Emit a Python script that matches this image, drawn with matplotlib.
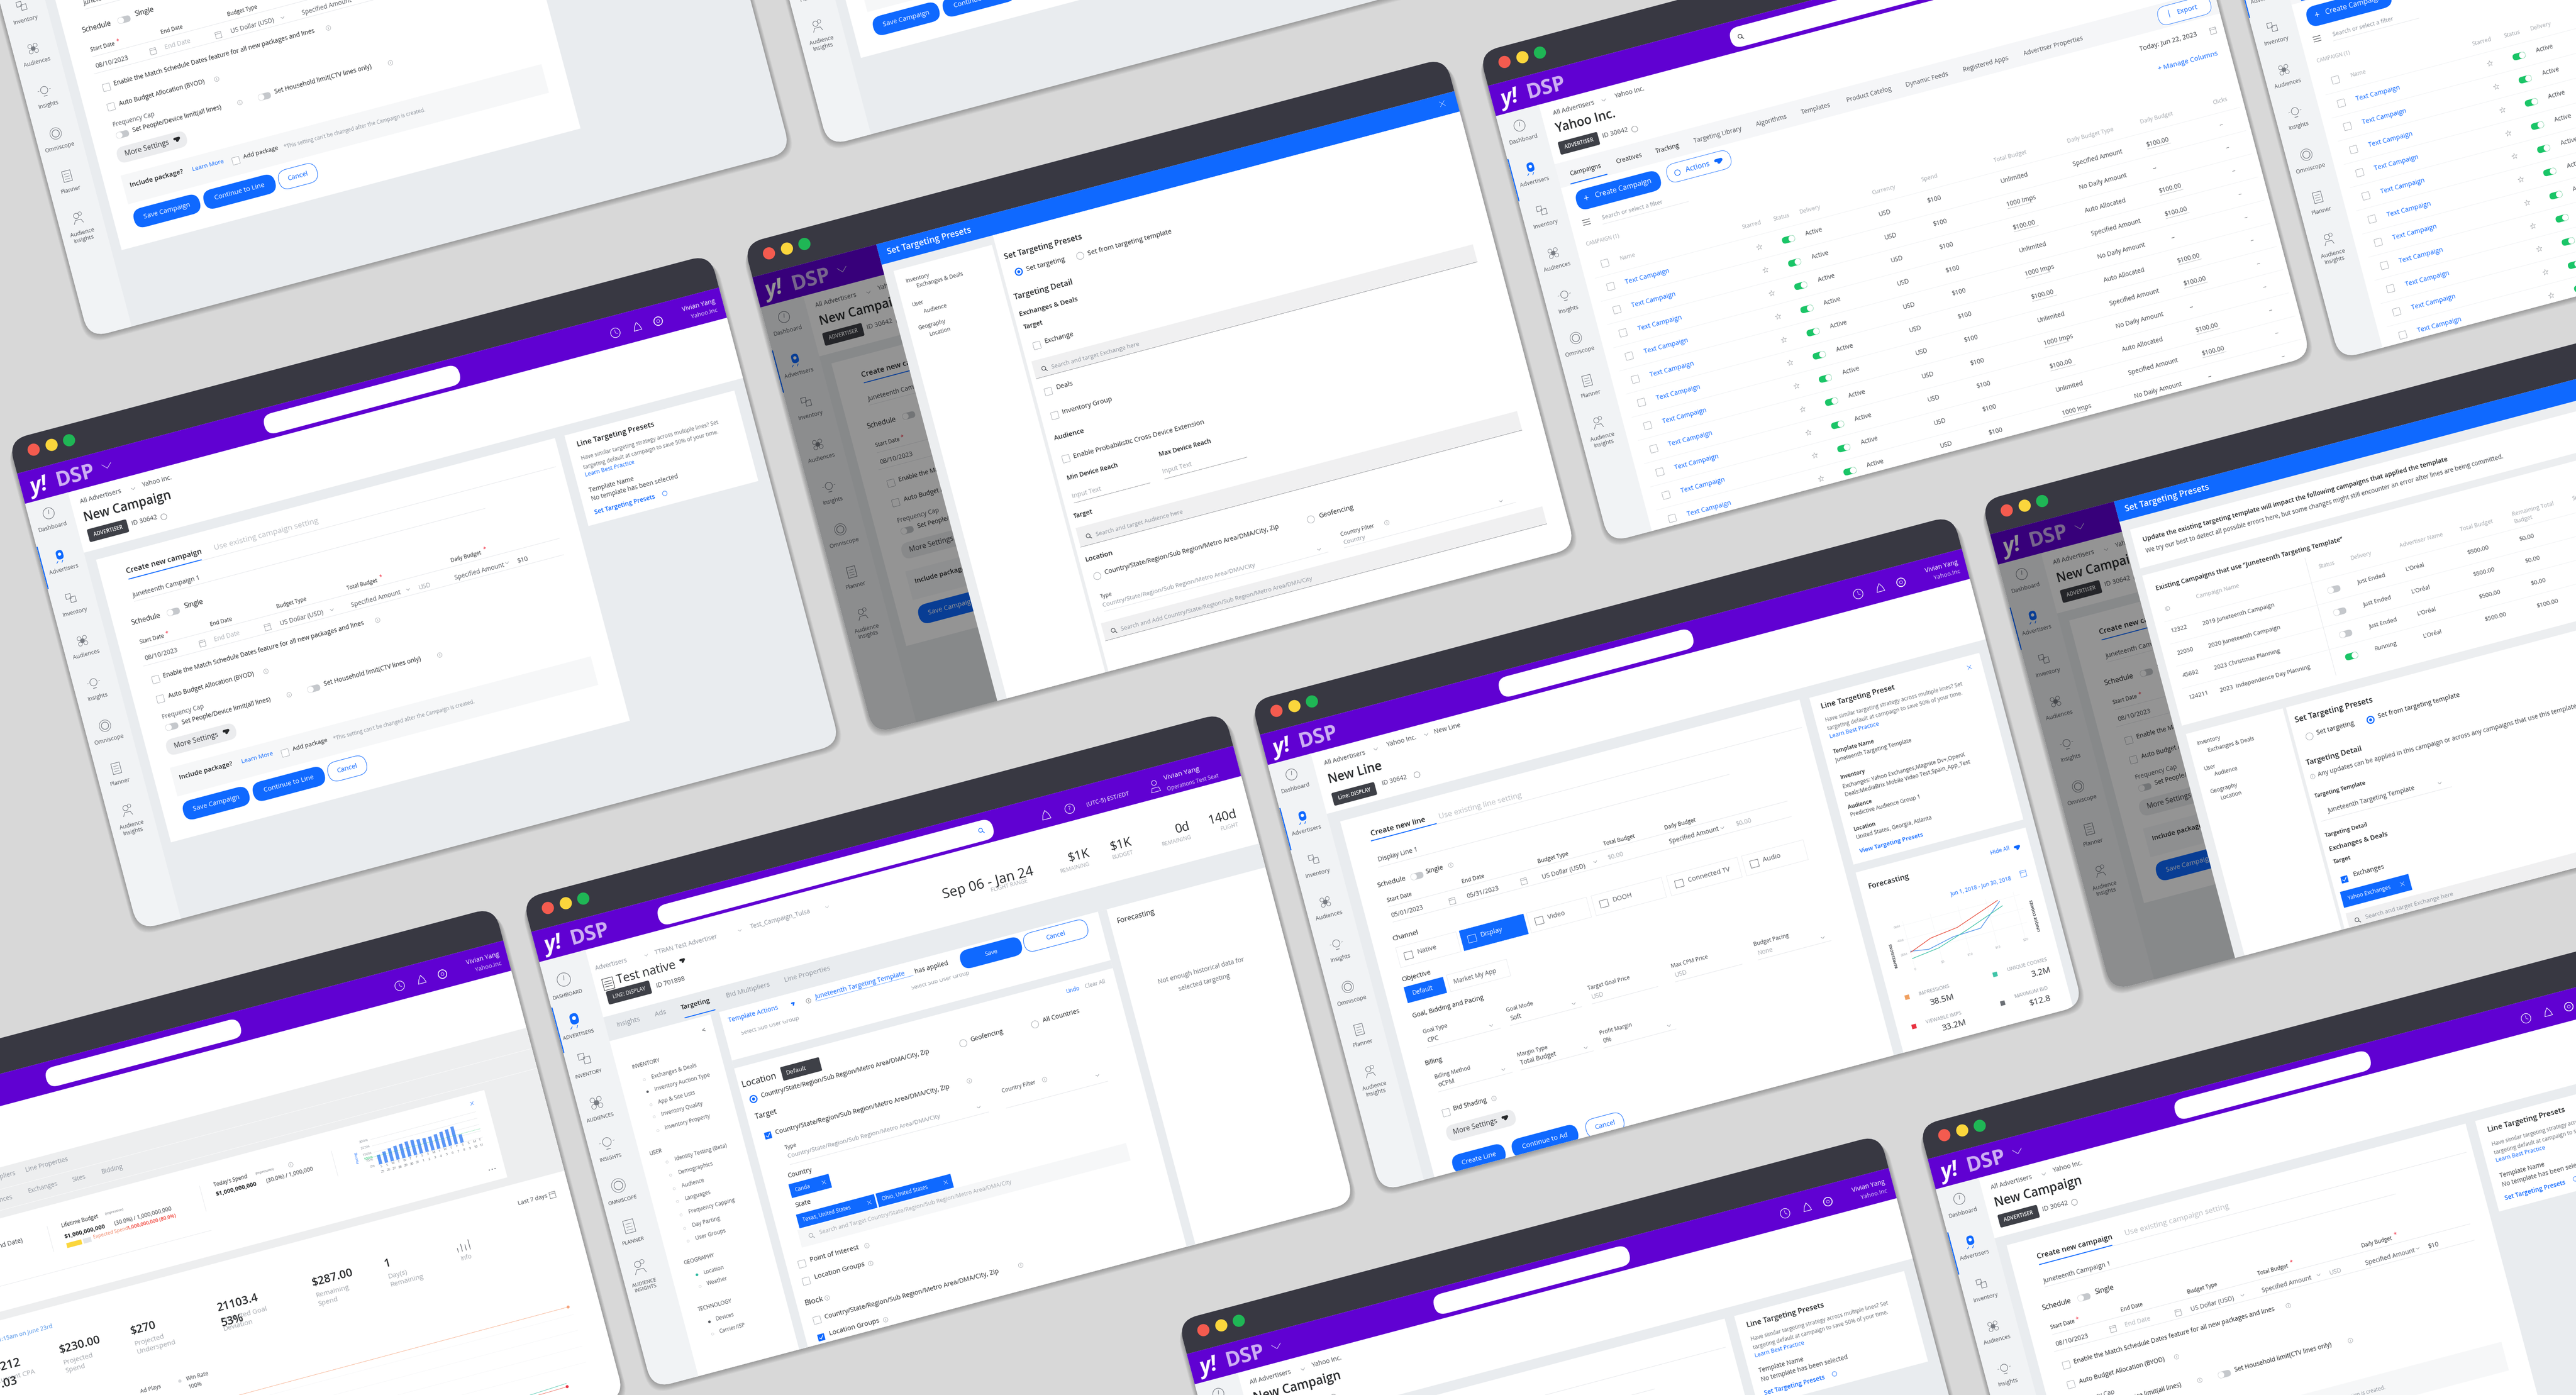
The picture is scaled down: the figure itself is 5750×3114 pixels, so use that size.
import itertools
import matplotlib
matplotlib.use('Agg')
import matplotlib.pyplot as plt
from matplotlib.patches import FancyBboxPatch, Circle
from matplotlib.transforms import Affine2D

plt.rcParams['font.family'] = ['Open Sans', 'DejaVu Sans']

# text of the screens
SIDE_LABELS = ['Dashboard', 'Advertisers', 'Inventory', 'Audiences', 'Insights', 'Omniscope', 'Planner', 'Audience\nInsights']
SIDE_CAPS = ['DASHBOARD', 'ADVERTISERS', 'INVENTORY', 'AUDIENCES', 'INSIGHTS', 'OMNISCOPE', 'PLANNER', 'AUDIENCE\nINSIGHTS']
SIDE_KINDS = ['gauge', 'rocket', 'cubes', 'flower', 'bulb', 'rings', 'page', 'people']
FORM_LABELS = ['End Date', 'Budget Type', 'Total Budget', 'Daily Budget']
PRESET_INTRO = ['Have similar targeting strategy across multiple lines? Set',
                'targeting default at campaign to save 50% of your time.']
TABLE_TABS = ['Campaigns', 'Creatives', 'Tracking', 'Targeting Library', 'Algorithms', 'Templates',
              'Product Catelog', 'Dynamic Feeds', 'Registered Apps', 'Advertiser Properties']
TABLE_HEADS = ['Starred', 'Status', 'Delivery', 'Currency', 'Spend', 'Total Budget', 'Daily Budget Type', 'Daily Budget', 'Clicks']
TOTAL_BUDGETS = ['Unlimited', '1000 Imps', '$100.00']
BUDGET_TYPES = ['Specified Amount', 'No Daily Amount', 'Auto Allocated']
DAILY_BUDGETS = ['$100.00', '--', '$100.00']
MODAL_NAV = ['Inventory', 'Exchanges & Deals', 'User', 'Audience', 'Geography', 'Location']
LONG_GEO = 'Country/State/Region/Sub Region/Metro Area/DMA/City'
CAMPAIGN_IDS = ['12322', '22050', '45692', '124211']
CAMPAIGN_NAMES = ['2019 Juneteenth Campaign', '2020 Juneteenth Campaign', '2023 Christmas Planning', '2023  Independence Day Planning']
CAMPAIGN_DELIVERY = ['Just Ended', 'Just Ended', 'Just Ended', 'Running']
CAMPAIGN_TOTAL = ['$500.00', '$500.00', '$500.00', '$500.00']
CAMPAIGN_LEFT = ['$0.00', '$0.00', '$0.00', '$100.00']
NAV_INVENTORY = ['Exchanges & Deals', 'Inventory Auction Type', 'App & Site Lists', 'Inventory Quality', 'Inventory Property']
NAV_USER = ['Identity Testing (Beta)', 'Demographics', 'Audience', 'Languages', 'Frequency Capping', 'Day Parting', 'User Groups']
LINE_TABS = ['Insights', 'Ads', 'Targeting', 'Bid Multipliers', 'Line Properties']
FLIGHT_VALUES = ['$1K', '$1K', '0d', '140d']
FLIGHT_NAMES = ['REMAINING', 'BUDGET', 'REMAINING', 'FLIGHT']
CHANNELS = ['Native', 'Display', 'Video', 'DOOH', 'Connected TV', 'Audio']
KPI_VALUES = ['$230.00', '$270', '21103.4', '$287.00', '1']
KPI_NAMES = [['Projected', 'Spend'], ['Projected', 'Underspend'], ['Projected Goal', 'Deviation'], ['Remaining', 'Spend'], ['Day(s)', 'Remaining']]

# forecast chart of the New Line screen: spend ($) against impressions (M)
IMPRESSION_SPEND = [0, 4, 9, 17]
IMPRESSION_M = [21, 33, 38, 60]
COOKIE_SPEND = [0, 5, 10.5, 17.6]
COOKIE_M = [12, 17, 31, 51]
VIEWABLE_SPEND = [0, 3.2, 7.9, 12.9, 17.3]
VIEWABLE_M = [22.5, 18.6, 26.8, 28.6, 58]
FORECAST_Y = ['20M', '40M', '60M']
FORECAST_X = ['0', '$5', '$10', '$15', '$20']
FORECAST_Y_TICKS = [20, 40, 60]
FORECAST_X_TICKS = [0, 5, 10, 15, 20]
FORECAST_STATS = ['IMPRESSIONS', 'VIEWABLE IMPS', 'UNIQUE COOKIES', 'MAXIMUM BID']
FORECAST_NUMBERS = ['38.5M', '33.2M', '3.2M', '$12.8']

# pacing chart of the dashboard screen
PACING = [110, 130, 150, 160, 165, 175, 175, 165, 160, 160, 170, 180, 190, 205, 95]
PACING_TICKS = [0, 75, 150, 225, 300]
WEEKDAYS = ['S', 'S', 'M', 'T', 'W', 'T', 'F', 'S', 'S', 'M', 'T', 'W', 'T', 'F', 'S', 'S', 'M', 'T']
MONTHDAYS = ['25', '26', '27', '28', '29', '30', '31', '1', '2', '3', '4', '5', '6', '7', '8', '9', '10', '11']
SPEND_LINE = [247.5, 247.2, 247.0, 246.8]
GOAL_LINE = [293.5, 293.0, 292.0, 291.5]
ACTUAL_LINE = [294.5, 294.2, 293.8, 293.5]

ANGLE = 14.85
W, H = 442, 308.5
PT = 2.64
TEXT_SCALE = 1.05
DARK = '#383842'
PURPLE = '#6001D2'
BLUE = '#0F69FF'
INK = '#26282A'
GREY = '#8F959E'
PALE = '#B9BDC5'
LINE = '#E2E4E8'
BODY = '#E9ECEF'
SIDE = '#F1F3F5'
GREEN = '#1AC567'

fig = plt.figure(figsize=(57.5, 31.14), dpi=100, facecolor='#D8D8D8')
ax = fig.add_axes([0, 0, 1, 1])
ax.set_xlim(0, 1568)
ax.set_ylim(849.2, 0)
ax.axis('off')
ax.autoscale(False)
order = itertools.count(10)


def window(tx, ty):
    tf = Affine2D().rotate_deg(-ANGLE).translate(tx, ty) + ax.transData
    for i in range(8):
        off = 0.5 + i * 0.45
        sh = FancyBboxPatch((-off * 0.7, off), W + off * 1.4, H, boxstyle='round,pad=0,rounding_size=13',
                            fc='black', ec='none', alpha=0.035, transform=tf, zorder=next(order))
        ax.add_patch(sh)
    clip = FancyBboxPatch((0, 0), W, H, boxstyle='round,pad=0,rounding_size=12', fc=BODY, ec='none',
                          transform=tf, zorder=next(order))
    ax.add_patch(clip)
    w = {'tf': tf, 'clip': clip}
    box(w, -1, -1, W + 1, 21, DARK)
    box(w, -1, 21, W + 1, 40.5, PURPLE)
    for u, c in zip([13.5, 24.8, 35.8], ['#F45B4F', '#FBD63C', '#1FB655']):
        ring(w, u, 9.5, 3.7, c)
    return w


def box(w, u0, v0, u1, v1, color, r=0, edge='none', lw=0, alpha=None):
    p = FancyBboxPatch((u0, v0), u1 - u0, v1 - v0, boxstyle='round,pad=0,rounding_size=%f' % max(r, 0.001),
                       fc=color, ec=edge, lw=lw * PT, alpha=alpha, transform=w['tf'], zorder=next(order))
    ax.add_patch(p)
    p.set_clip_path(w['clip'])
    return p


def ring(w, u, v, r, color='none', edge='none', lw=0):
    p = Circle((u, v), r, fc=color, ec=edge, lw=lw * PT, transform=w['tf'], zorder=next(order))
    ax.add_patch(p)
    p.set_clip_path(w['clip'])


def rule(w, us, vs, color=LINE, lw=0.25, ls='-', tf=None):
    ln, = ax.plot(us, vs, color=color, lw=lw * PT, ls=ls, transform=tf if tf else w['tf'],
                  zorder=next(order), solid_capstyle='round')
    ln.set_clip_path(w['clip'])
    return ln


def say(w, u, v, s, size=3.8, color=INK, weight='normal', ha='left', style='normal', rot=ANGLE, tf=None):
    t = ax.text(u, v, s, transform=tf if tf else w['tf'], rotation=rot, rotation_mode='anchor', ha=ha, va='center',
                fontsize=size * PT * TEXT_SCALE, color=color, fontweight=weight, fontstyle=style, parse_math=False,
                zorder=next(order), linespacing=1.15, clip_on=True)
    t.set_clip_path(w['clip'])
    return t


def check(w, u, v, on=False):
    if on:
        box(w, u - 2.1, v - 2.1, u + 2.1, v + 2.1, BLUE, r=0.3)
        rule(w, [u - 1.2, u - 0.3, u + 1.3], [v, v + 1, v - 1.2], 'white', 0.4)
    else:
        box(w, u - 2.2, v - 2.2, u + 2.2, v + 2.2, 'white', r=0.3, edge='#8A8F96', lw=0.2)


def radio(w, u, v, on=False):
    if on:
        ring(w, u, v, 2.1, 'white', BLUE, 0.7)
        ring(w, u, v, 0.9, BLUE)
    else:
        ring(w, u, v, 2.2, 'white', '#8A8F96', 0.22)


def toggle(w, u, v, on=False):
    box(w, u - 4, v - 2, u + 4, v + 2, GREEN if on else '#C5C8CC', r=2)
    ring(w, u + (2 if on else -2), v, 1.9, 'white', '#D5D7DA', 0.1)


def info(w, u, v, c='#777B82'):
    ring(w, u, v, 1.4, 'none', c, 0.16)
    rule(w, [u, u], [v - 0.6, v + 0.7], c, 0.18)


def chevron(w, u, v, c='#8A8F96', s=1.0, lw=0.25):
    rule(w, [u - s, u, u + s], [v - s * 0.5, v + s * 0.5, v - s * 0.5], c, lw)


def caret(w, u, v, c=INK, s=1.6):
    rule(w, [u - s * 0.5, u + s * 0.5, u], [v - 0.4, v - 0.4, v + 0.9], c, s * 0.6)


def calendar(w, u, v, c='#777B82'):
    box(w, u - 1.8, v - 1.8, u + 1.8, v + 2, 'none', edge=c, lw=0.2)
    rule(w, [u - 1.8, u + 1.8], [v - 0.7, v - 0.7], c, 0.2)


def glass(w, u, v, c='#4A4D52'):
    ring(w, u - 0.3, v - 0.3, 1.2, 'none', c, 0.35)
    rule(w, [u + 0.5, u + 1.6], [v + 0.5, v + 1.6], c, 0.4)


def cross(w, u, v, c='white', s=1.2):
    rule(w, [u - s, u + s], [v - s, v + s], c, 0.2)
    rule(w, [u - s, u + s], [v + s, v - s], c, 0.2)


def pill(w, u0, u1, v, s, filled=True, h=6, size=4.2):
    if filled:
        box(w, u0, v - h, u1, v + h, BLUE, r=h)
        say(w, (u0 + u1) / 2, v, s, size, 'white', ha='center')
    else:
        box(w, u0, v - h, u1, v + h, 'white', r=h, edge=BLUE, lw=0.3)
        say(w, (u0 + u1) / 2, v, s, size, BLUE, ha='center')


def side_icon(w, kind, u, v, s=1.0):
    c = '#777B82'
    if kind == 'gauge':
        ring(w, u, v, 3.4 * s, 'none', c, 0.35)
        rule(w, [u, u + 0.5 * s], [v + 0.3, v - 2 * s], c, 0.35)
    elif kind == 'rocket':
        box(w, u - 2.2 * s, v - 3.5 * s, u + 2.2 * s, v + 2.2 * s, BLUE, r=2.1 * s)
        ring(w, u, v - 1 * s, 1 * s, 'white')
        rule(w, [u - 2 * s, u - 3 * s], [v + 3 * s, v + 4 * s], BLUE, 0.4)
        rule(w, [u + 1, u + 0.2], [v + 3 * s, v + 4.2 * s], BLUE, 0.4)
    elif kind == 'cubes':
        box(w, u - 3 * s, v - 3 * s, u, v, 'none', edge=c, lw=0.35)
        box(w, u - 0.6 * s, v - 0.8 * s, u + 2.6 * s, v + 2.6 * s, 'none', edge=c, lw=0.35)
    elif kind == 'flower':
        for du, dv in [(-1.7, -1.7), (1.7, -1.7), (-1.7, 1.7), (1.7, 1.7), (0, 0)]:
            ring(w, u + du * s, v + dv * s, 1.2 * s, c if du == 0 else 'none', c, 0.3)
    elif kind == 'bulb':
        ring(w, u, v - 0.6 * s, 2.2 * s, 'none', c, 0.35)
        rule(w, [u - 1 * s, u + 1 * s], [v + 3 * s, v + 3 * s], c, 0.4)
        rule(w, [u - 4 * s, u - 3.2 * s], [v - 0.6 * s, v - 0.6 * s], c, 0.25)
        rule(w, [u + 3.2 * s, u + 4 * s], [v - 0.6 * s, v - 0.6 * s], c, 0.25)
    elif kind == 'rings':
        ring(w, u, v, 3.5 * s, 'none', c, 0.3)
        ring(w, u, v, 2.2 * s, 'none', c, 0.4)
    elif kind == 'page':
        box(w, u - 2.6 * s, v - 3.2 * s, u + 2.6 * s, v + 3.4 * s, 'none', edge=c, lw=0.35)
        for dv in (-1.3, 0.3, 1.8):
            rule(w, [u - 1.5 * s, u + 1.5 * s], [v + dv * s, v + dv * s], c, 0.25)
    elif kind == 'people':
        ring(w, u - 0.8 * s, v - 1.8 * s, 1.6 * s, 'none', c, 0.35)
        ring(w, u + 1.6 * s, v - 2.6 * s, 1.1 * s, 'none', c, 0.28)
        rule(w, [u - 3.2 * s, u - 2 * s, u + 1.5 * s, u + 2.5 * s], [v + 3 * s, v + 0.8 * s, v + 0.8 * s, v + 3 * s], c, 0.35)


def sidebar(w):
    box(w, -1, 40, 27, H + 1, SIDE)
    rule(w, [0.3, 0.3], [67.5, 93.5], BLUE, 0.75)
    for i, (name, kind) in enumerate(zip(SIDE_LABELS, SIDE_KINDS)):
        v = 49.3 + 26.75 * i
        side_icon(w, kind, 12.4, v)
        say(w, 12.6, v + (8.7 if i < 7 else 11), name, 3.3, '#55585E', ha='center')


def logo(w, chev=True):
    say(w, 5.5, 32, 'y!', 12.5, 'white', 'bold', style='italic')
    say(w, 22, 31.5, 'DSP', 12, '#CFB2F3', 'bold')
    if chev:
        chevron(w, 54, 30.5, '#D9C6F5', 2.8, 0.35)


def user_block(w, name2='Yahoo.Inc'):
    ring(w, 374, 31.5, 2.9, 'none', 'white', 0.35)
    rule(w, [374, 374, 375.2], [29.8, 31.6, 32.3], 'white', 0.25)
    rule(w, [385.4, 386.2, 387.8, 389.4, 390.2, 385.4], [33.5, 31, 28.6, 31, 33.5, 33.5], 'white', 0.35)
    ring(w, 401, 31.3, 2.6, 'none', 'white', 0.5)
    ring(w, 401, 31.3, 0.9, 'none', 'white', 0.25)
    say(w, 437.5, 28.5, 'Vivian Yang', 3.7, 'white', ha='right')
    say(w, 437.5, 34.1, name2, 3.4, '#E2D3F7', ha='right')


def new_campaign(w):
    logo(w)
    box(w, 153, 25, 276, 37.5, 'white', r=6.2)
    user_block(w)
    box(w, 26, 40, W + 1, 78, 'white')
    sidebar(w)
    say(w, 32.7, 47.7, 'All Advertisers', 3.7, '#4A4D52')
    chevron(w, 66, 48, '#8A8F96', 1.2)
    say(w, 71.8, 47.4, 'Yahoo Inc.', 3.7, '#4A4D52')
    say(w, 32.4, 57.7, 'New Campaign', 7.2, INK, 'semibold')
    box(w, 32.2, 64.8, 57, 72.8, '#3E4047', r=1)
    say(w, 44.6, 68.8, 'ADVERTISER', 3, 'white', 'semibold', ha='center')
    say(w, 59.6, 68.6, 'ID 30642', 3.7, '#4A4D52')
    ring(w, 79.6, 69.3, 1.8, 'none', '#5A5D63', 0.2)

    box(w, 33, 84, 322, 262, 'white')
    say(w, 49, 95.8, 'Create new campaign', 4.35, INK, 'semibold')
    rule(w, [49.3, 95], [100.5, 100.5], BLUE, 0.55)
    say(w, 104.3, 95.7, 'Use existing campaign setting', 4.5, '#BABDC2')
    rule(w, [95, 318], [101, 101])
    say(w, 49, 111, 'Juneteenth Campaign 1', 3.7, '#43464B')
    rule(w, [49, 270], [114.5, 114.5])
    say(w, 44, 126.8, 'Schedule', 4.1)
    toggle(w, 70.4, 126.7)
    say(w, 77.6, 125.5, 'Single', 4.1)

    say(w, 46, 139.3, 'Start Date', 3.1)
    say(w, 62.3, 138.5, '*', 3.2, '#F0182E')
    for u, name in zip([90, 132, 176.3, 241.6], FORM_LABELS):
        say(w, u, 140, name, 3.1)
    say(w, 197, 138.5, '*', 3.2, '#F0182E')
    say(w, 262.5, 138.5, '*', 3.2, '#F0182E')
    rule(w, [46, 309], [143.7, 143.7])
    say(w, 46.3, 150, '08/10/2023', 3.7, '#43464B')
    calendar(w, 82.6, 149.8)
    say(w, 90, 149.6, 'End Date', 3.6, '#B0B4BA')
    calendar(w, 123.5, 150.4)
    say(w, 131.3, 150.6, 'US Dollar (USD)', 3.6, '#55585E')
    chevron(w, 164, 150.3)
    say(w, 176.1, 150.7, 'Specified Amount', 3.6, '#55585E')
    chevron(w, 212, 150.2)
    say(w, 218.6, 150.9, 'USD', 3.6, '#9EA2A8')
    say(w, 241.2, 150.8, 'Specified Amount', 3.6, '#55585E')
    chevron(w, 274.4, 150)
    say(w, 280.6, 150.8, '$10', 3.7, '#43464B')
    rule(w, [44.3, 309], [154, 154])

    check(w, 49.5, 163.8)
    say(w, 54.4, 163.2, 'Enable the Match Schedule Dates feature for all new packages and lines', 3.6)
    info(w, 189.3, 163.5)
    check(w, 49.2, 176)
    say(w, 54.4, 175.7, 'Auto Budget Allocation (BYOD)', 3.6)
    info(w, 115.6, 176.2)
    say(w, 47.3, 187.1, 'Frequency Cap', 3.6, '#55585E')
    toggle(w, 51.6, 194)
    say(w, 58.2, 193.4, 'Set People/Device limit(all lines)', 3.6)
    info(w, 125.6, 193.6)
    toggle(w, 141, 193.8)
    say(w, 147.7, 193, 'Set Household limit(CTV lines only)', 3.6)
    info(w, 220.4, 193.7)
    box(w, 45, 201, 88.8, 211, '#EBECEE', r=5)
    say(w, 49.9, 206, 'More Settings', 4.1, '#3A3C40')
    caret(w, 82.8, 205.3, INK, 2.6)

    box(w, 44, 218, 309, 236, '#F6F7F8')
    say(w, 48, 225.4, 'Include package?', 3.85, INK, 'semibold')
    say(w, 87, 225.6, 'Learn More', 3.5, BLUE)
    check(w, 114.2, 227.2)
    say(w, 119.3, 226.2, 'Add package', 3.5)
    say(w, 144.8, 226.7, "*This setting can't be changed after the Campaign is created.", 3, '#8F959E')
    pill(w, 45, 86.5, 246, 'Save Campaign', size=3.9)
    pill(w, 89, 134, 246, 'Continue to Line', size=3.9)
    pill(w, 136.2, 160.3, 246, 'Cancel', filled=False, size=3.9)

    box(w, 328, 84, 435, 141, 'white')
    say(w, 334, 91.6, 'Line Targeting Presets', 4.4, INK, 'semibold')
    say(w, 334.2, 100.3, PRESET_INTRO[0], 3.15, '#6B6F75')
    say(w, 334.2, 105.8, PRESET_INTRO[1], 3.15, '#6B6F75')
    say(w, 334, 110.6, 'Learn Best Practice', 3.3, BLUE)
    say(w, 334, 120.4, 'Template Name', 3.6, '#34363A')
    say(w, 334, 125.9, 'No template has been selected', 3.6, '#43464B')
    say(w, 333.6, 134.1, 'Set Targeting Presets', 3.6, BLUE, 'semibold')
    ring(w, 378, 133.7, 1.4, 'none', BLUE, 0.25)


def table_page(w):
    logo(w, chev=False)
    box(w, 150, 25, 276, 37.5, 'white', r=6.2)
    glass(w, 156.4, 31.4, '#2D2F33')
    box(w, 26, 40, W + 1, H + 1, 'white')
    box(w, 26, 77.5, W + 1, 92.5, '#F5F6F8')
    sidebar(w)
    say(w, 34, 47.6, 'All Advertisers', 3.7, '#4A4D52')
    chevron(w, 66, 47.5, '#8A8F96', 1.2)
    say(w, 72.9, 47, 'Yahoo Inc.', 3.7, '#4A4D52')
    say(w, 33.2, 57.2, 'Yahoo Inc.', 7.2, INK, 'semibold')
    box(w, 32.2, 65, 57, 73, '#3E4047', r=1)
    say(w, 44.6, 69, 'ADVERTISER', 3, 'white', 'semibold', ha='center')
    say(w, 59.6, 68.6, 'ID 30642', 3.7, '#4A4D52')
    ring(w, 79.6, 69.3, 1.8, 'none', '#5A5D63', 0.2)
    for u, tab in zip([34.5, 63.4, 88.5, 112.6, 151.9, 180.1, 208.8, 246, 282.1, 320.2], TABLE_TABS):
        say(w, u, 85.8, tab, 3.6, INK if tab in TABLE_TABS[:3] else '#55585E')
    rule(w, [33.5, 56.3], [91.6, 91.6], BLUE, 0.6)
    box(w, 405, 79.5, 438, 91, 'white', r=5.5, edge=BLUE, lw=0.25)
    rule(w, [412, 412], [82.5, 87], BLUE, 0.3)
    say(w, 417, 85.3, 'Export', 4, BLUE)
    say(w, 389.2, 101.2, 'Today: Jun 22, 2023', 3.8, '#34363A')
    calendar(w, 435.3, 101.6)
    say(w, 397, 115.7, '+ Manage Columns', 4, BLUE)
    box(w, 34, 96.5, 87, 109, BLUE, r=6.2)
    say(w, 39, 102.7, '+', 5.5, 'white')
    say(w, 45.9, 102.5, 'Create Campaign', 4.2, 'white')
    box(w, 91.5, 95.5, 131.6, 107, 'white', r=5.7, edge=BLUE, lw=0.25)
    ring(w, 98, 101.6, 1.7, 'none', BLUE, 0.35)
    say(w, 103.2, 101.6, 'Actions', 4.2, BLUE)
    caret(w, 124, 101, BLUE, 3.2)
    for dv in (-1.5, 0, 1.5):
        rule(w, [34.5, 39], [116.5 + dv, 116.5 + dv], '#34363A', 0.3)
    say(w, 46.6, 116.6, 'Search or select a filter', 3.4, '#8F959E')
    rule(w, [46, 100], [120.3, 120.3])
    say(w, 33.2, 129.6, 'CAMPAIGN (1)', 3, '#A4A8AE')
    check(w, 41.2, 143.6)
    say(w, 50.8, 143.3, 'Name', 3.3, '#A4A8AE')
    heads_u = [127.3, 147.1, 163.8, 209.4, 240.2, 286, 332.2, 378.1, 424]
    for u, name in zip(heads_u, TABLE_HEADS):
        say(w, u, 144, name, 3.3, '#A4A8AE')
    for i in range(11):
        v = 158.2 + 14.6 * i
        rule(w, [33, 439], [v - 7.3, v - 7.3], '#EEF0F2')
        check(w, 41, v)
        say(w, 50.3, v, 'Text Campaign', 3.8, BLUE)
        say(w, 134.7, v, '\u2606', 4.6, '#6B6F75', ha='center')
        toggle(w, 152.9, v, True)
        say(w, 163.8, v - 0.5, 'Active', 3.6, '#43464B')
        say(w, 209.8, v - 0.4, 'USD', 3.6, '#43464B')
        say(w, 240.4, v - 0.6, '$100', 3.6, '#43464B')
        total = TOTAL_BUDGETS[i % 3]
        say(w, 286.7, v - 0.8, total, 3.6, '#43464B')
        if i % 3:
            rule(w, [286.7, 286.7 + 15.5], [v + 1.6, v + 1.6], '#888B90', 0.14)
        say(w, 331.9, v + 0.5, BUDGET_TYPES[i % 3], 3.6, '#43464B')
        say(w, 378.2, v + 0.5, DAILY_BUDGETS[i % 3], 3.6, '#43464B')
        if DAILY_BUDGETS[i % 3] != '--':
            rule(w, [378.2, 393], [v + 2.9, v + 2.9], '#888B90', 0.14)
        say(w, 424.5, v, '--', 3.4, '#43464B')


def dim_with_modal(w):
    new_campaign(w)
    box(w, -1, 21, W + 1, H + 1, 'black', alpha=0.42)
    box(w, 78, 21, W + 1, H + 1, '#ECEEF0')
    box(w, 78, 21, W + 1, 33.8, BLUE)
    say(w, 83.3, 27.3, 'Set Targeting Presets', 5, 'white', 'semibold')


def modal_nav(w, u0, u1, vs):
    for i, (name, v) in enumerate(zip(MODAL_NAV, vs)):
        say(w, u0 if i % 2 == 0 else u1, v, name, 3.2, '#43464B')


def search_band(w, v0, v1, s):
    box(w, 151, v0, 429, v1, '#F0F0F1')
    rule(w, [151, 429], [v1, v1], '#55585E', 0.16)
    glass(w, 157.5, (v0 + v1) / 2 + 0.8)
    say(w, 162, (v0 + v1) / 2 + 1, s, 3.4, '#8F959E')


def set_targeting_modal(w):
    dim_with_modal(w)
    cross(w, 433, 26.5, 'white', 1.6)
    box(w, 84, 39.3, 146, H + 1, 'white')
    box(w, 148, 33.8, W + 1, H + 1, 'white')
    modal_nav(w, 89.7, 95.4, [47.2, 52, 62.3, 67.9, 76.9, 82.4])
    say(w, 151.2, 48.6, 'Set Targeting Presets', 4.6, INK, 'semibold')
    radio(w, 157.6, 59.3, True)
    say(w, 162.4, 59.1, 'Set targeting', 3.9)
    radio(w, 196.2, 59.5)
    say(w, 201, 59.6, 'Set from targeting template', 3.9)
    say(w, 150.9, 73.9, 'Targeting Detail', 4.6, INK, 'semibold')
    say(w, 151.2, 84.6, 'Exchanges & Deals', 3.9, INK, 'semibold')
    say(w, 151.6, 93, 'Target', 3.8, INK, 'semibold')
    check(w, 156.8, 105.5)
    say(w, 161.9, 104.6, 'Exchange', 3.9)
    search_band(w, 114, 125, 'Search and target Exchange here')
    check(w, 156.3, 134.4)
    say(w, 161.6, 133.5, 'Deals', 3.9)
    check(w, 156.4, 149.5)
    say(w, 161.2, 149, 'Inventory Group', 3.9)
    say(w, 152.3, 163, 'Audience', 4, INK, 'semibold')
    check(w, 156.2, 176.7)
    say(w, 161, 176.7, 'Enable Probabilistic Cross Device Extension', 3.9)
    say(w, 153.7, 188.6, 'Min Device Reach', 3.6, INK, 'semibold')
    say(w, 211.5, 188.9, 'Max Device Reach', 3.6, INK, 'semibold')
    say(w, 153.8, 199.9, 'Input Text', 3.7, '#A4A8AE')
    say(w, 211, 199.7, 'Input Text', 3.7, '#A4A8AE')
    rule(w, [154, 202], [204, 204], '#55585E', 0.16)
    rule(w, [211, 263], [204, 204], '#55585E', 0.16)
    say(w, 151.5, 212, 'Target', 3.8, INK, 'semibold')
    search_band(w, 219, 231, 'Search and target Audience here')
    say(w, 151.7, 239.3, 'Location', 4, INK, 'semibold')
    radio(w, 156.3, 250.6)
    say(w, 161.2, 249.9, LONG_GEO + ', Zip', 3.75)
    radio(w, 290.8, 250.6)
    say(w, 296, 250.2, 'Geofencing', 3.9)
    say(w, 154.9, 263.3, 'Type', 3.2, '#43464B')
    say(w, 154.8, 268.8, LONG_GEO, 3.5, '#8F959E')
    chevron(w, 291, 269.6)
    rule(w, [155, 296], [272.5, 272.5])
    say(w, 305.9, 264.2, 'Country Filter', 3.2, '#43464B')
    info(w, 335, 264.4)
    say(w, 306.3, 269.3, 'Country', 3.5, '#8F959E')
    chevron(w, 405.5, 269.5)
    rule(w, [306, 414], [272.5, 272.5])
    search_band(w, 279, 290, 'Search and Add ' + LONG_GEO)


def template_modal(w):
    dim_with_modal(w)
    box(w, 83, 40, W + 1, 64.5, 'white')
    box(w, 83, 69, W + 1, 163.5, 'white')
    box(w, 84, 169, 145, H + 1, 'white')
    box(w, 147, 169, W + 1, H + 1, 'white')
    say(w, 89, 48, 'Update the existing targeting template will impact the following campaigns that applied the template', 3.75, INK, 'semibold')
    say(w, 89, 55.4, 'We try our best to detect all possible errors here, but some changes might still encounter an error after lines are being committed.', 3.55, '#43464B')
    say(w, 89, 78.9, 'Existing Campaigns that use \u201cJuneteenth Targeting Template\u201d', 3.8, INK, 'semibold')
    say(w, 91.2, 92.6, 'ID', 3.3, '#A4A8AE')
    say(w, 111.6, 90.1, 'Campaign Name', 3.3, '#A4A8AE')
    rule(w, [181.5, 181.5], [84, 158])
    for u, name in zip([188.1, 208.3, 239, 277.2], ['Status', 'Delivery', 'Advertiser Name', 'Total Budget']):
        say(w, u, 91.5, name, 3.3, '#A4A8AE')
    say(w, 310.2, 90.8, 'Remaining Total', 3.3, '#A4A8AE')
    say(w, 310.2, 95.4, 'Budget', 3.3, '#A4A8AE')
    say(w, 348, 91, 'Spend', 3.3, '#A4A8AE')
    for i in range(4):
        v = 106.2 + 14 * i
        rule(w, [89, 442], [v - 6.5, v - 6.5], '#EEF0F2')
        say(w, 91.3, v, CAMPAIGN_IDS[i], 3.4, '#43464B')
        say(w, 111, v + 0.6, CAMPAIGN_NAMES[i], 3.4, '#43464B')
        toggle(w, 193.7, v + 0.8, i == 3)
        say(w, 208.4, v + 0.2, CAMPAIGN_DELIVERY[i], 3.4, '#43464B')
        say(w, 239, v + 0.4, "L'Or\u00e9al", 3.4, '#43464B')
        say(w, 277.7, v, CAMPAIGN_TOTAL[i], 3.5, '#43464B')
        say(w, 310.4, v + 0.2, CAMPAIGN_LEFT[i], 3.5, '#43464B')
    modal_nav(w, 89.2, 94.5, [176.3, 182.2, 192.5, 197.3, 206.9, 212.2])
    say(w, 150.3, 178.1, 'Set Targeting Presets', 4.6, INK, 'semibold')
    radio(w, 156.4, 189.7)
    say(w, 161.2, 188.9, 'Set targeting', 3.8)
    radio(w, 194.9, 189.5, True)
    say(w, 199.7, 188.7, 'Set from targeting template', 3.8)
    say(w, 150.3, 205, 'Targeting Detail', 4.4, INK, 'semibold')
    info(w, 152, 213.8)
    say(w, 155.3, 213.6, 'Any updates can be applied in this campaign or across any campaigns that use this template', 3.6, '#43464B')
    say(w, 150.1, 225.8, 'Targeting Template', 3.3, INK, 'semibold')
    say(w, 155.7, 236.5, 'Juneteenth Targeting Template', 3.6, '#43464B')
    chevron(w, 225.8, 237.5)
    rule(w, [150, 232.3], [241.5, 241.5])
    say(w, 150.3, 250.6, 'Targeting Detail', 3.3, INK, 'semibold')
    say(w, 150.4, 259.3, 'Exchanges & Deals', 3.9, INK, 'semibold')
    say(w, 150.7, 267.3, 'Target', 3.5, INK, 'semibold')
    check(w, 154.7, 279.3, True)
    say(w, 160.5, 278, 'Exchanges', 3.8)
    box(w, 150, 286, 193, 296, BLUE)
    say(w, 153.5, 291, 'Yahoo Exchanges', 3.2, 'white')
    cross(w, 188, 291)
    box(w, 150, 299.5, 429, 315, '#F0F0F1')
    glass(w, 156, 305.3)
    say(w, 161.2, 305, 'Search and target Exchange here', 3.4, '#8F959E')


def test_native(w):
    logo(w, chev=False)
    box(w, 77, 25.5, 288, 38, 'white', r=6.2)
    glass(w, 280.5, 31.6, BLUE)
    rule(w, [318.4, 319.2, 321, 322.8, 323.6, 318.4], [35, 32.2, 29.6, 32.2, 35, 35], 'white', 0.35)
    ring(w, 336, 32.5, 2.9, 'none', 'white', 0.35)
    say(w, 336, 32.5, '?', 3.4, 'white', ha='center')
    say(w, 346.6, 33, '(UTC-5) EST/EDT', 3.4, 'white')
    ring(w, 389.6, 30.5, 1.5, 'none', 'white', 0.3)
    rule(w, [386.8, 387.5, 391.7, 392.4, 386.8], [36, 33.5, 33.5, 36, 36], 'white', 0.3)
    say(w, 396.1, 29.5, 'Vivian Yang', 4, 'white')
    say(w, 396.3, 36.2, 'Operations Test Seat', 3.2, '#E2D3F7')
    box(w, 26, 40, W + 1, H + 1, 'white')
    box(w, -1, 40, 29, H + 1, SIDE)
    rule(w, [0.3, 0.3], [69, 97], BLUE, 0.75)
    for i, (name, v, kind) in enumerate(zip(SIDE_CAPS, [63.6, 89.1, 113.5, 141.2, 166.6, 193.3, 218.9, 246.9], SIDE_KINDS)):
        side_icon(w, kind, 11.7, v - (9.5 if i < 7 else 11.5), 1.2)
        say(w, 11.7, v, name, 2.95, '#43464B', ha='center')
    say(w, 32, 52.7, 'Advertisers', 3.6, '#8F959E')
    chevron(w, 64, 52.7, '#B0B4BA', 1)
    say(w, 69.6, 52.7, 'TTRAN Test Advertiser', 3.6, '#8F959E')
    chevron(w, 123, 52.7, '#B0B4BA', 1)
    say(w, 129.6, 52.5, 'Test_Campaign_Tulsa', 3.6, '#8F959E')
    chevron(w, 178, 52.5, '#B0B4BA', 1)
    box(w, 34, 60, 40.5, 67, 'white', edge='#2D2F33', lw=0.3)
    for dv in (62, 63.5, 65):
        rule(w, [35, 39.5], [dv, dv], '#2D2F33', 0.3)
    say(w, 42.8, 63.2, 'Test native', 7, INK)
    caret(w, 84.4, 61.3, INK, 2.2)
    box(w, 34.4, 67.8, 61.6, 76, '#3E4047', r=1)
    say(w, 48, 72, 'LINE: DISPLAY', 3, 'white', ha='center')
    say(w, 65.1, 72.6, 'ID 701898', 3.6, '#43464B')
    say(w, 247.7, 63.7, 'Sep 06 - Jan 24', 8, INK)
    say(w, 276.9, 68.2, 'FLIGHT RANGE', 3.2, '#A4A8AE')
    for u, u2, val, name in zip([334, 360.5, 399.3, 424.6], [330, 360, 394, 427.3], FLIGHT_VALUES, FLIGHT_NAMES):
        say(w, u, 61.6, val, 7.2, INK, ha='center')
        say(w, u2, 68, name, 3.2, '#A4A8AE', ha='center')
    box(w, 29, 82.5, W + 1, 97.5, BODY)
    for u, tab in zip([35.7, 59.9, 76.3, 104.6, 141.5], LINE_TABS):
        say(w, u, 89.2, tab, 3.9, INK if tab == 'Targeting' else '#8F959E', 'semibold' if tab == 'Targeting' else 'normal')
    rule(w, [77, 96], [95.5, 95.5], BLUE, 0.55)
    box(w, 92.5, 97.5, 98, H + 1, BODY)
    box(w, 336.5, 97.5, 342, H + 1, BODY)
    say(w, 107.7, 113.4, 'Select Sub User Group', 3.3, '#8F959E')
    say(w, 215, 113.4, 'Select Sub User Group', 3.3, '#8F959E')
    box(w, 98, 97.5, 336.5, 112.5, 'white')
    say(w, 102.2, 104, 'Template Actions', 3.7, BLUE)
    caret(w, 142.8, 104, BLUE, 1.4)
    info(w, 152.4, 104.8, INK)
    say(w, 156.7, 103.8, 'Juneteenth Targeting Template', 3.75, BLUE)
    rule(w, [156.7, 218], [106.2, 106.2], BLUE, 0.16)
    say(w, 219.5, 104.4, 'has applied', 3.75)
    pill(w, 248, 286.5, 105, 'Save', h=5.8, size=3.5)
    pill(w, 288, 328, 105, 'Cancel', filled=False, h=5.8, size=3.7)
    box(w, 98, 128, 336.5, 133, BODY)
    say(w, 86, 106.2, '<', 3.8, '#43464B', ha='center')
    say(w, 38.2, 116.5, 'INVENTORY', 3.1, '#43464B')
    for name, v in zip(NAV_INVENTORY, [125.2, 132.8, 141, 148.6, 157.3]):
        ring(w, 43.5, v + 0.4, 0.7, '#55585E' if 'Auction' in name else 'white', '#8A8F96', 0.1)
        say(w, 48.2, v, name, 3.1, '#55585E')
    say(w, 35, 170.1, 'USER', 3.1, '#43464B')
    for name, v in zip(NAV_USER, [177.2, 185.5, 194, 202, 210.5, 219, 227]):
        ring(w, 44, v + 0.4, 0.7, 'white', '#8A8F96', 0.1)
        say(w, 48.9, v, name, 3.1, '#55585E')
    say(w, 38.2, 239.7, 'GEOGRAPHY', 3.1, '#43464B')
    ring(w, 44, 248.6, 0.8, '#2DB9A0')
    say(w, 48.3, 248.2, 'Location', 3.1, '#55585E')
    ring(w, 44, 255.9, 0.7, 'white', '#8A8F96', 0.1)
    say(w, 48.3, 255.5, 'Weather', 3.1, '#55585E')
    say(w, 39.2, 269.4, 'TECHNOLOGY', 3.1, '#43464B')
    ring(w, 44, 278.2, 0.8, '#55585E')
    say(w, 48.3, 277.8, 'Devices', 3.1, '#55585E')
    ring(w, 44, 285.9, 0.7, 'white', '#8A8F96', 0.1)
    say(w, 48.3, 285.5, 'Carrier/ISP', 3.1, '#55585E')

    say(w, 305.4, 139.6, 'Undo', 3.2, BLUE)
    say(w, 317.4, 139.6, 'Clear All', 3.2, '#8F959E')
    say(w, 99.9, 144, 'Location', 5.2, INK)
    box(w, 125.2, 139.5, 149.6, 148, '#3E4047', r=0.6)
    say(w, 128, 143.8, 'Default', 3.5, 'white')
    radio(w, 104.7, 154, True)
    say(w, 109.7, 153.4, LONG_GEO + ', Zip', 3.6)
    radio(w, 236.8, 153.9)
    say(w, 241.5, 153.3, 'Geofencing', 3.7)
    radio(w, 282, 154)
    say(w, 287.1, 153.2, 'All Countries', 3.7)
    say(w, 102.7, 165.1, 'Target', 4.4)
    check(w, 107.6, 177.7, True)
    say(w, 112.5, 177.3, LONG_GEO + ', Zip', 3.75)
    info(w, 234.5, 177)
    say(w, 252, 188, 'Country Filter', 3.2, '#43464B')
    info(w, 279, 188)
    chevron(w, 310.7, 193.8)
    rule(w, [252, 316], [198.8, 198.8])
    say(w, 115.5, 187.6, 'Type', 3.2, '#43464B')
    say(w, 115.8, 193.2, LONG_GEO, 3.5, '#8F959E')
    chevron(w, 236, 194)
    rule(w, [116, 241], [198.3, 198.3])
    say(w, 112.7, 204.7, 'Country', 3.9)
    for u0, u1, v, name in [(111.9, 137.1, 214, 'Canda'), (111.6, 160.7, 233, 'Texas, United States'), (161.7, 208.8, 233, 'Ohio, United States')]:
        box(w, u0, v - 4.3, u1, v + 4.3, BLUE)
        say(w, u0 + 3, v, name, 3.05, 'white')
        cross(w, u1 - 4, v, 'white', 1.1)
    say(w, 112.6, 223.2, 'State', 3.9)
    box(w, 110, 238, 317, 249, '#F6F7F8')
    glass(w, 117.5, 243.5, '#A4A8AE')
    say(w, 122.6, 243, 'Search and Target ' + LONG_GEO, 3.3, '#A4A8AE')
    check(w, 107.5, 258.6)
    say(w, 112.8, 257.8, 'Point of Interest', 3.9)
    info(w, 148.5, 258)
    check(w, 107.3, 269.4)
    say(w, 112.7, 268.6, 'Location Groups', 3.9)
    info(w, 148, 269)
    say(w, 102.8, 282.4, 'Block', 4.4)
    info(w, 117, 282.5)
    check(w, 107.6, 294)
    say(w, 112.4, 293.7, LONG_GEO + ', Zip', 3.75)
    info(w, 236, 293.5)
    check(w, 107.4, 304.8, True)
    say(w, 112.7, 304.1, 'Location Groups', 3.9)
    info(w, 148, 304.5)
    say(w, 346.1, 106.3, 'Forecasting', 4.2)
    say(w, 388, 148.4, 'Not enough historical data for', 3.7, '#6B6F75', ha='center')
    say(w, 388, 155.8, 'selected targeting', 3.7, '#6B6F75', ha='center')


def new_line(w):
    logo(w, chev=False)
    box(w, 148, 25, 270, 37.5, 'white', r=6.2)
    user_block(w)
    box(w, 26, 40, W + 1, 78, 'white')
    sidebar(w)
    say(w, 33.5, 48, 'All Advertisers', 3.7, '#4A4D52')
    chevron(w, 66, 47.5, '#8A8F96', 1.2)
    say(w, 72.9, 46.8, 'Yahoo Inc.', 3.7, '#4A4D52')
    chevron(w, 98, 46.8, '#8A8F96', 1.2)
    say(w, 102.8, 46.6, 'New Line', 3.7, '#4A4D52')
    say(w, 33.3, 58.5, 'New Line', 7.2, INK, 'semibold')
    box(w, 32.8, 66.5, 59.8, 74.5, '#3E4047', r=1)
    say(w, 46.3, 70.5, 'Line: DISPLAY', 3, 'white', 'semibold', ha='center')
    say(w, 64.3, 68.8, 'ID 30642', 3.6, '#4A4D52')
    ring(w, 86.2, 69, 1.8, 'none', '#5A5D63', 0.2)
    box(w, 33.7, 84.5, 323, H + 2, 'white')
    box(w, 329, 85, 436, 190, 'white')
    box(w, 329, 195, 436, H + 2, 'white')
    say(w, 49.8, 96.8, 'Create new line', 4.4, INK, 'semibold')
    rule(w, [49, 90], [100.8, 100.8], BLUE, 0.55)
    say(w, 92.4, 97.5, 'Use existing line setting', 4.5, '#BABDC2')
    rule(w, [90, 320], [101.2, 101.2])
    say(w, 49.9, 113.2, 'Display Line 1', 3.7, '#43464B')
    rule(w, [49, 270], [117.5, 117.5])
    say(w, 45.5, 128.2, 'Schedule', 4)
    toggle(w, 70.4, 128.6)
    say(w, 76.2, 127.6, 'Single', 3.8)
    info(w, 92, 127.5)
    say(w, 49, 138.5, 'Start Date', 3.2)
    for u, name in zip([96, 143.6, 185.2, 223.6], FORM_LABELS):
        say(w, u, 139, name, 3.2)
    rule(w, [49, 300], [142.3, 142.3])
    say(w, 49.1, 148.2, '05/01/2023', 3.6, '#43464B')
    calendar(w, 87.3, 148.8)
    say(w, 96.5, 148.6, '05/31/2023', 3.6, '#43464B')
    calendar(w, 132.5, 148.3)
    say(w, 143.7, 149, 'US Dollar (USD)', 3.6, '#43464B')
    chevron(w, 177.5, 148.1)
    say(w, 185.5, 148, '$0.00', 3.6, '#A4A8AE')
    say(w, 224, 148.1, 'Specified Amount', 3.6, '#43464B')
    chevron(w, 257.6, 148)
    say(w, 266.1, 148.1, '$0.00', 3.6, '#A4A8AE')
    rule(w, [49, 300], [152, 152])
    say(w, 46.1, 162.1, 'Channel', 4)
    spans = [(46.6, 84.6), (86.6, 127), (128.9, 166.7), (169.7, 213.9), (217.1, 261.6), (264.4, 303.2)]
    for (u0, u1), name in zip(spans, CHANNELS):
        on = name == 'Display'
        box(w, u0, 167.5, u1, 180, BLUE if on else 'white', edge=BLUE if on else '#E2E4E8', lw=0.2)
        box(w, u0 + 4, 171.8, u0 + 9, 176.2, 'none', edge='white' if on else '#55585E', lw=0.25)
        say(w, u0 + 12, 173.5, name, 3.9, 'white' if on else '#55585E')
    say(w, 45.4, 187.5, 'Objective', 4)
    box(w, 45.2, 192, 69.9, 202, BLUE)
    say(w, 49.5, 197, 'Default', 3.6, 'white')
    box(w, 72.2, 191.5, 110, 202, 'white', edge='#E2E4E8', lw=0.2)
    say(w, 75.5, 197, 'Market My App', 3.6, '#55585E')
    say(w, 46, 210.6, 'Goal, Bidding and Pacing', 3.7)
    for u, name, value, ul in [(49.7, 'Goal Type', 'CPC', 96), (101.9, 'Goal Mode', 'Soft', 147),
                               (153.3, 'Target Goal Price', 'USD', 195), (205.7, 'Max CPM Price', 'USD', 248),
                               (257.9, 'Budget Pacing', 'None', 304)]:
        say(w, u, 221.5, name, 3.2, '#43464B')
        say(w, u + 1, 227.3, value, 3.6, '#43464B' if value in ('CPC', 'Soft') else '#A4A8AE')
        rule(w, [u, ul], [231.2, 231.2])
    for u in (90.8, 142.8, 299.6):
        chevron(w, u, 228.2)
    say(w, 45.9, 240.4, 'Billing', 3.7)
    for u, name, value, ul, cu in [(49.3, 'Billing Method', 'oCPM', 96, 91.1), (101.2, 'Margin Type', 'Total Budget', 147, 143),
                                   (153.2, 'Profit Margin', '0%', 199, 195.4)]:
        say(w, u, 249.7, name, 3.2, '#43464B')
        say(w, u + 1, 255, value, 3.6, '#43464B')
        chevron(w, cu, 256)
        rule(w, [u, ul], [259, 259])
    check(w, 50.7, 272.4)
    say(w, 55.3, 271.5, 'Bid Shading', 3.6)
    info(w, 81, 271.5)
    box(w, 47.5, 280.3, 90.8, 290.3, '#EBECEE', r=5)
    say(w, 51.6, 285.3, 'More Settings', 4.1, '#3A3C40')
    caret(w, 84.5, 284.5, INK, 2.6)
    pill(w, 46.2, 79.3, 304.5, 'Create Line', h=5.8, size=3.9)
    pill(w, 83.7, 125.1, 304.5, 'Continue to Ad', h=5.8, size=3.9)
    pill(w, 130.3, 153.9, 304.5, 'Cancel', filled=False, h=5.8, size=3.9)

    say(w, 334.5, 92.1, 'Line Targeting Preset', 4.4, INK, 'semibold')
    cross(w, 428, 92, BLUE, 1.2)
    say(w, 335, 100.7, PRESET_INTRO[0], 3.15, '#6B6F75')
    say(w, 335, 106.1, PRESET_INTRO[1], 3.15, '#6B6F75')
    say(w, 335, 111.2, 'Learn Best Practice', 3.3, BLUE)
    lines = [('Template Name', 120.6, True), ('Juneteenth Targeting Template', 126, False), ('Inventory', 136.8, True),
             ('Exchanges: Yahoo Exchanges,Magnite Dv+,OpenX', 142.6, False), ('Deals:MediaBrix Mobile Video Test,Spain_App_Test', 147.6, False),
             ('Audience', 155.6, True), ('Predictive Audience Group 1', 160.4, False), ('Location', 169.3, True), ('United States, Georgia, Atlanta', 174.6, False)]
    for s, v, head in lines:
        say(w, 334.8, v, s, 3.2, INK if head else '#43464B', 'semibold' if head else 'normal')
    say(w, 334.8, 183.2, 'View Targeting Presets', 3.5, BLUE, 'semibold')
    say(w, 411.4, 204.8, 'Hide All', 3.2, BLUE)
    caret(w, 428, 205.3, BLUE, 2.4)
    say(w, 334.2, 205.6, 'Forecasting', 4.4, INK, 'semibold')
    say(w, 381.7, 222.4, 'Jun 1, 2018 - Jun 30, 2018', 3.1, BLUE)
    calendar(w, 427.5, 221.7, BLUE)

    chart = Affine2D().scale(3.48, -0.4365).translate(349, 259.7) + w['tf']
    for yt, lab in zip(FORECAST_Y_TICKS, FORECAST_Y):
        rule(w, [-2, 21], [yt, yt], '#EEF0F2', 0.14, tf=chart)
        say(w, -0.6, yt, lab, 1.9, '#A4A8AE', ha='right', tf=chart)
    for xt, lab in zip(FORECAST_X_TICKS, FORECAST_X):
        rule(w, [xt, xt], [0, 66], '#EEF0F2', 0.14, tf=chart)
        say(w, xt, -3.5, lab, 1.9, '#A4A8AE', ha='center', tf=chart)
    rule(w, VIEWABLE_SPEND, VIEWABLE_M, '#4A90E8', 0.4, tf=chart)
    rule(w, COOKIE_SPEND, COOKIE_M, '#41C4A8', 0.4, tf=chart)
    rule(w, IMPRESSION_SPEND, IMPRESSION_M, '#E8503F', 0.4, tf=chart)
    say(w, 338.4, 249.9, 'IMPRESSIONS', 2.2, '#43464B', 'bold', ha='center', rot=ANGLE + 90)
    say(w, 428, 248.2, 'UNIQUE COOKIES', 2.2, '#43464B', 'bold', ha='center', rot=ANGLE + 90)
    spots = [(347.3, 276.6, 352.4, 283.3), (347, 294.2, 355.6, 300.4), (403.2, 276.2, 416.3, 282.5), (403.2, 293, 410.8, 299.2)]
    marks = [(339.9, 276.4, '#F0A060'), (339.4, 294.7, '#E8303F'), (395.2, 276.7, '#41C4A8'), (395.2, 294.8, '#6B6F75')]
    for (a, b, c, d), name, num, (mu, mv, mc) in zip(spots, FORECAST_STATS, FORECAST_NUMBERS, marks):
        say(w, a, b, name, 2.9, '#8F959E')
        say(w, c, d, num, 5, '#34363A')
        box(w, mu - 1.4, mv - 1.4, mu + 1.4, mv + 1.4, mc)


def dashboard(w):
    logo(w, chev=False)
    box(w, 151.5, 25, 274, 37, 'white', r=6)
    user_block(w)
    box(w, 26, 40, W + 1, H + 1, 'white')
    box(w, 26, 76, W + 1, 166, '#EDEEEF')
    rule(w, [26, 442], [89, 89], 'white', 0.2)
    rule(w, [26, 442], [101.4, 101.4], 'white', 0.2)
    say(w, 125.2, 81.7, 'Line Properties', 3.6, '#8F959E')
    say(w, 118.6, 81.7, 'Bid Multipliers', 3.6, '#8F959E', ha='right')
    for u, tab in zip([123.3, 151, 169.4], ['Exchanges', 'Sites', 'Bidding']):
        say(w, u, 94.7, tab, 3.6, '#8F959E')
    say(w, 113, 95.5, 'Audiences', 3.6, '#8F959E', ha='right')
    box(w, 26, 106, 407.5, 161, 'white')
    say(w, 112.5, 122.4, '(Start Date - End Date)', 3.6, '#43464B', ha='right')
    rule(w, [129, 129], [118, 134], LINE, 0.22)
    rule(w, [225, 225], [118, 134], LINE, 0.22)
    rule(w, [308, 308], [118, 134], LINE, 0.22)
    rule(w, [85, 225], [146, 146], LINE, 0.2)
    say(w, 137.6, 120.1, 'Lifetime Budget', 3, '#26282A')
    say(w, 165, 120, '(Impression)', 1.9, '#6B6F75')
    say(w, 137.5, 127.1, '$1,000,000,000', 3.4, INK, 'bold')
    say(w, 169, 127, '(30.0%) / 1,000,000,000', 3.2, '#34363A')
    say(w, 154.4, 131.9, 'Expected Spend', 2.8, '#F08060')
    say(w, 176, 131.9, '1,000,000,000 (80.0%)', 2.8, '#F0382E', 'semibold')
    box(w, 137.6, 131, 147, 134, '#FBD63C')
    box(w, 148, 131, 153, 134, '#E2E4E8')
    say(w, 233.5, 119.8, "Today's Spend", 3, '#26282A')
    say(w, 260, 119.8, '(impression)', 1.9, '#6B6F75')
    info(w, 282, 119.8)
    say(w, 233.2, 125.7, '$1,000,000,000', 3.4, INK, 'bold')
    say(w, 265, 125.7, '(30.0%) / 1,000,000', 3.2, '#34363A')

    chart = Affine2D().scale(3.66, -0.0535).translate(335.1, 133.5) + w['tf']
    for val in PACING_TICKS:
        rule(w, [-0.6, 17.5], [val, val], '#DADCE0', 0.14, tf=chart)
        say(w, -1, val, '%d%%' % val, 2.2, '#8F959E', ha='right', tf=chart)
    say(w, -1, 100, '100%', 2.2, '#1AC567', ha='right', tf=chart)
    bars = ax.bar(range(len(PACING)), PACING, width=0.55, color='#5B96F7', transform=chart, zorder=next(order))
    for b in bars:
        b.set_clip_path(w['clip'])
    rule(w, [-1, 17.5], [100, 100], GREEN, 0.14, ls='--', tf=chart)
    for i, (d, n) in enumerate(zip(WEEKDAYS, MONTHDAYS)):
        say(w, i, -28, d, 2, '#6B6F75', ha='center', tf=chart)
        say(w, i, -88, n, 2, '#6B6F75', ha='center', tf=chart)
    say(w, 322, 126, 'Pacing', 2.2, BLUE, ha='center', rot=ANGLE + 90)
    for du in (398, 399.8, 401.6):
        ring(w, du, 153.9, 0.35, '#6B6F75')
    cross(w, 398.2, 112, BLUE, 1)

    say(w, 409.7, 178.1, 'Last 7 days', 3.4, '#43464B')
    calendar(w, 431.3, 178.3, '#43464B')
    say(w, 116.6, 177.7, 'Last updated 11:15am on June 23rd', 3.3, '#4A90E8', ha='right')
    say(w, 92.2, 193.8, '$212', 7, INK, 'semibold', ha='right')
    say(w, 99.3, 201.6, 'Current CPA', 4, '#A4A8AE', ha='right')
    say(w, 87.4, 204, '.03', 7, INK, 'semibold', ha='right')
    for u, val, names in zip([116.9, 161.7, 216.3, 276, 321.4], KPI_VALUES, KPI_NAMES):
        say(w, u, 193, val, 6.6, INK, 'semibold')
        say(w, u + 0.4, 201, names[0], 4, '#A4A8AE')
        say(w, u + 0.4, 206.2, names[1], 4, '#A4A8AE')
    say(w, 216.3, 202.4, '53%', 6.6, INK, 'semibold')
    say(w, 367.3, 201.9, 'Info', 3.6, '#A4A8AE')
    for du, top in zip([367, 369.5, 372, 374.5], [195, 193, 194, 191.5]):
        rule(w, [du, du], [top, 197.5], '#55585E', 0.35)
    ring(w, 183, 229.8, 1, '#D5D7DA')
    say(w, 187.1, 229.6, 'Win Rate', 3.2, '#43464B')
    say(w, 187.3, 234.8, '100%', 3.2, '#43464B')
    say(w, 171, 230, 'Ad Plays', 3.2, '#43464B', ha='right')
    for v in (252, 262, 272, 282):
        rule(w, [212, 425], [v, v], '#F0F1F3', 0.14)
    xs = [150, 240, 330, 423]
    rule(w, xs, SPEND_LINE, '#F5A27A', 0.22)
    ring(w, 423, SPEND_LINE[-1], 0.9, '#F5A27A')
    rule(w, [360, 380, 400, 410], GOAL_LINE, '#41C4A8', 0.25)
    rule(w, [360, 380, 400, 410], ACTUAL_LINE, '#E8503F', 0.22)
    ring(w, 410, ACTUAL_LINE[-1], 0.9, '#E8303F')


new_campaign(window(-25, -92.5))
new_campaign(window(425, -209.5))
table_page(window(1345, -79.6))
new_campaign(window(5, 268))
set_targeting_modal(window(452.6, 148.5))
table_page(window(900.3, 32))
template_modal(window(1206, 305))
dashboard(window(-126.3, 665.5))
test_native(window(318, 547))
new_line(window(761.5, 427))
new_campaign(window(717, 804))
new_campaign(window(1168, 685.3))

fig.savefig('out.png', dpi=100, facecolor=fig.get_facecolor())
